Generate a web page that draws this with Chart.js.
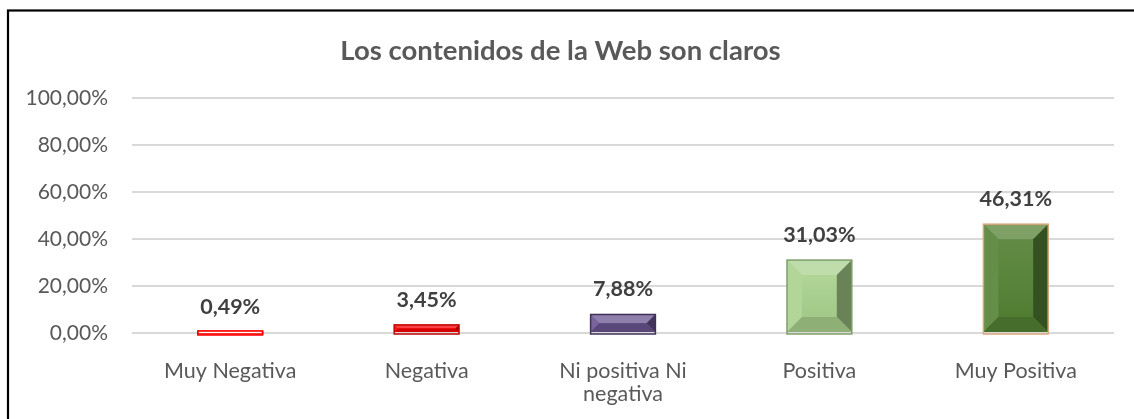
<!DOCTYPE html>
<html>
<head>
<meta charset="utf-8">
<script src="https://cdn.jsdelivr.net/npm/chart.js@4.4.0/dist/chart.umd.min.js"></script>
<style>
html,body{margin:0;padding:0;background:#fff;}
#wrap{width:1134px;height:419px;}
</style>
</head>
<body>
<div id="wrap"><canvas id="c" width="1134" height="419"></canvas></div>
<script>
const chartTitle = 'Los contenidos de la Web son claros';
const categories = ['Muy Negativa', 'Negativa', ['Ni positiva Ni', 'negativa'], 'Positiva', 'Muy Positiva'];
const values = [0.49, 3.45, 7.88, 31.03, 46.31];
const barColors = ['#FF0000', '#FF0000', '#6A5490', '#A9D18E', '#548235'];
const barBorders = ['#FF0000', '#C00000', '#3F3157', '#7E9F6A', '#D9A77A'];
const yTicks = [0, 20, 40, 60, 80, 100];

function shade(hex, amt) {
  const n = parseInt(hex.slice(1), 16);
  let r = (n >> 16) & 255, g = (n >> 8) & 255, b = n & 255;
  const t = amt < 0 ? 0 : 255, p = Math.abs(amt);
  r = Math.round(r + (t - r) * p); g = Math.round(g + (t - g) * p); b = Math.round(b + (t - b) * p);
  return 'rgb(' + r + ',' + g + ',' + b + ')';
}
const fmt = v => v.toFixed(2).replace('.', ',') + '%';

const framePlugin = {
  id: 'frame',
  beforeDraw(chart) {
    const ctx = chart.ctx;
    ctx.save();
    ctx.fillStyle = '#fff';
    ctx.fillRect(0, 0, chart.width, chart.height);
    ctx.strokeStyle = '#000';
    ctx.lineWidth = 2.2;
    ctx.strokeRect(8, 10.5, chart.width + 50, chart.height + 50);
    ctx.restore();
  }
};

const bevelPlugin = {
  id: 'bevel',
  afterDatasetsDraw(chart) {
    const ctx = chart.ctx;
    const meta = chart.getDatasetMeta(0);
    meta.data.forEach((bar, i) => {
      const p = bar.getProps(['x', 'y', 'base', 'width'], true);
      const l = p.x - p.width / 2, r = p.x + p.width / 2;
      const t = Math.min(p.y, p.base), b = Math.max(p.y, p.base);
      const h = b - t, w = r - l;
      const c = barColors[i];
      const bv = Math.min(15, h / 2, w / 4);
      ctx.save();
      ctx.fillStyle = c;
      ctx.fillRect(l, t, w, h);
      if (bv > 0.5) {
        const poly = (pts, col) => {
          ctx.beginPath();
          ctx.moveTo(pts[0][0], pts[0][1]);
          for (let k = 1; k < pts.length; k++) ctx.lineTo(pts[k][0], pts[k][1]);
          ctx.closePath();
          ctx.fillStyle = col;
          ctx.fill();
        };
        // soft face gradient
        const g = ctx.createLinearGradient(0, t + bv, 0, b - bv);
        g.addColorStop(0, shade(c, 0.08));
        g.addColorStop(1, shade(c, -0.04));
        ctx.fillStyle = g;
        ctx.fillRect(l + bv, t + bv, w - 2 * bv, Math.max(0, h - 2 * bv));
        poly([[l, t], [r, t], [r - bv, t + bv], [l + bv, t + bv]], shade(c, 0.25));
        poly([[l, t], [l + bv, t + bv], [l + bv, b - bv], [l, b]], shade(c, 0.1));
        poly([[r, t], [r, b], [r - bv, b - bv], [r - bv, t + bv]], shade(c, -0.38));
        poly([[l, b], [l + bv, b - bv], [r - bv, b - bv], [r, b]], shade(c, -0.16));
      }
      ctx.lineWidth = 1.5;
      ctx.strokeStyle = barBorders[i];
      ctx.strokeRect(l, t, w, h + 2);
      if (h < 4) {
        ctx.fillStyle = '#fff';
        ctx.fillRect(l + 1, b - 0.5, w - 2, 1.5);
        ctx.strokeStyle = c;
        ctx.strokeRect(l, t - 1, w, h + 4);
      }
      ctx.restore();
      ctx.save();
      ctx.font = 'bold 21.5px Lato';
      ctx.fillStyle = '#404040';
      ctx.textAlign = 'center';
      ctx.textBaseline = 'middle';
      ctx.fillText(fmt(values[i]), p.x, t - 25);
      ctx.restore();
    });
  }
};

new Chart(document.getElementById('c'), {
  type: 'bar',
  data: {
    labels: categories,
    datasets: [{
      data: values,
      backgroundColor: 'rgba(0,0,0,0)',
      borderWidth: 0,
      barPercentage: 0.66,
      categoryPercentage: 0.5
    }]
  },
  options: {
    responsive: false,
    animation: false,
    layout: { padding: { top: 35, left: 7, right: 20, bottom: 0 } },
    plugins: {
      legend: { display: false },
      tooltip: { enabled: false },
      title: {
        display: true,
        text: chartTitle,
        color: '#595959',
        font: { family: 'Lato', size: 27.5, weight: 'bold', lineHeight: 1.2 },
        padding: { top: 0, bottom: 30 }
      }
    },
    scales: {
      x: {
        grid: { display: false, drawTicks: false },
        border: { display: false },
        ticks: {
          color: '#595959',
          padding: 26,
          maxRotation: 0,
          autoSkip: false,
          font: { family: 'Lato', size: 21.5, lineHeight: 1.08 }
        },
        afterFit(s) { s.height = 86; }
      },
      y: {
        min: 0,
        max: 100,
        afterBuildTicks(s) { s.ticks = yTicks.map(v => ({ value: v })); },
        grid: { color: '#D9D9D9', lineWidth: 2, drawTicks: false },
        border: { display: false },
        ticks: {
          color: '#595959',
          padding: 24,
          font: { family: 'Lato', size: 21 },
          callback: v => fmt(v)
        },
        afterFit(s) { s.width = 125; }
      }
    }
  },
  plugins: [framePlugin, bevelPlugin]
});
</script>
</body>
</html>
